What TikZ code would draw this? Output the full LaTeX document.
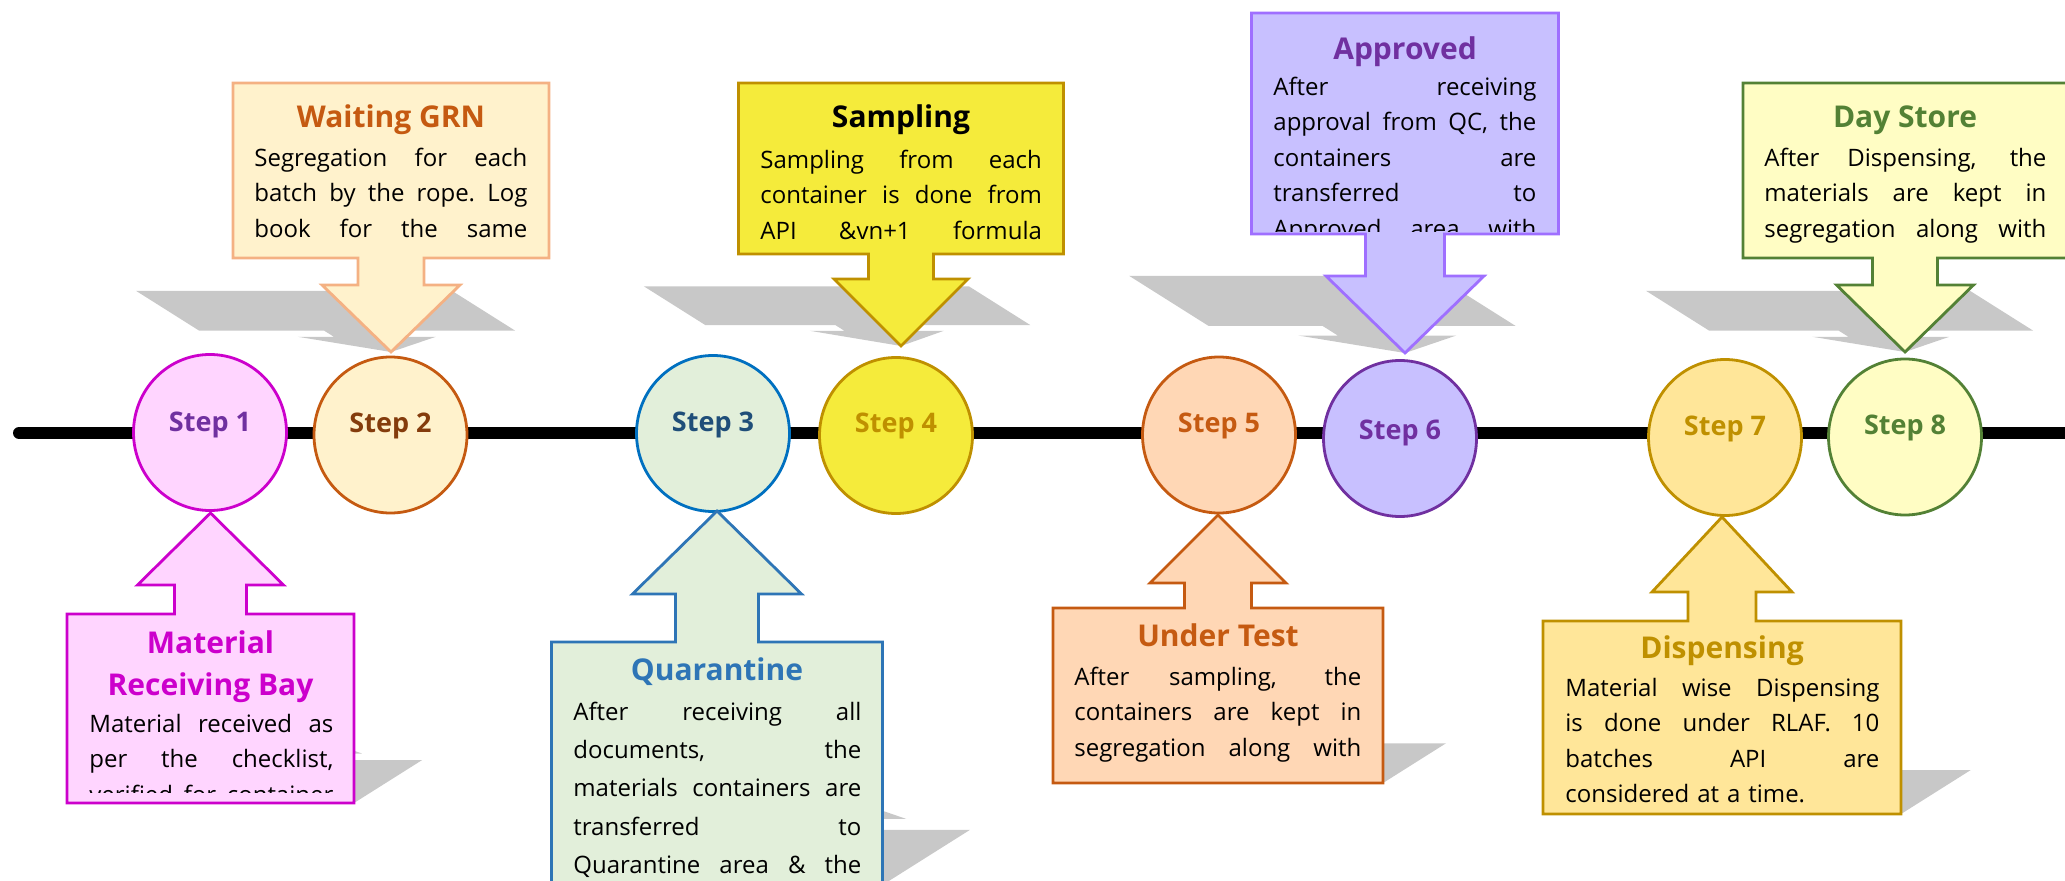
\documentclass[tikz,border=0pt]{standalone}
\usepackage{fontspec}
\setmainfont{Open Sans}
\usepackage{tikz}
\usetikzlibrary{shapes.geometric}

\definecolor{pinkF}{HTML}{FFD5FF}
\definecolor{pinkD}{HTML}{CC00CC}
\definecolor{purpD}{HTML}{7030A0}
\definecolor{creamF}{HTML}{FFF2CC}
\definecolor{peachD}{HTML}{F4B183}
\definecolor{brownD}{HTML}{C55A11}
\definecolor{brownT}{HTML}{843C0C}
\definecolor{greenF}{HTML}{E2EFDA}
\definecolor{blueD}{HTML}{0070C0}
\definecolor{blueB}{HTML}{2E75B6}
\definecolor{navyT}{HTML}{1F4E79}
\definecolor{yellowF}{HTML}{F5EB3B}
\definecolor{goldD}{HTML}{BF9000}
\definecolor{peachF}{HTML}{FFD7B5}
\definecolor{lavF}{HTML}{C8C0FF}
\definecolor{violD}{HTML}{9F6FFF}
\definecolor{goldF}{HTML}{FFE699}
\definecolor{lemonF}{HTML}{FFFDC4}
\definecolor{oliveD}{HTML}{538135}
\definecolor{shadowC}{HTML}{C8C8C8}

% one justified line of a callout text
\newlength{\jw}
\newcommand{\jline}[1]{\noindent\hbox to \jw{\spaceskip=.27em plus 1fil\xspaceskip=.27em plus 1fil\strut#1}\par}

% callouts: centre x / far edge / near edge / half width / stem / head / head y / tip y / fill / draw
\def\calls{391/83/258/158/33/69/285/352/creamF/peachD,
  901/83/254/162.5/32.5/67/279/346/yellowF/goldD,
  1405/13/234/153.5/39.5/79/276/353/lavF/violD,
  1905/83/258/162/32.5/68.5/285/352/lemonF/oliveD,
  210.5/803/614/143.5/36/73/585/513/pinkF/pinkD,
  717/885/642/165.5/41.5/84.5/594/511/greenF/blueB,
  1218/783/608/165/33.5/68/583/515/peachF/brownD,
  1722/814/621/179/34/70/592/517/goldF/goldD}

\begin{document}
\begin{tikzpicture}[x=0.5pt, y=-0.5pt,
    stepnode/.style={ellipse, minimum width=76.5pt, minimum height=78pt, inner sep=0pt, line width=1.4pt},
    steptext/.style={anchor=base, inner sep=0pt, font=\fontsize{13.5}{16}\selectfont\bfseries},
    ttl/.style={anchor=base, inner sep=0pt, font=\fontsize{15}{21}\selectfont\bfseries},
    body/.style={anchor=north west, inner sep=0pt, font=\fontsize{12}{17.75}\selectfont,
      text width=#1, execute at begin node={\setlength{\jw}{#1}}},
    callbox/.style={line width=1.4pt, line join=miter},
    dropshade/.style={fill=shadowC}]

	\useasboundingbox (0,0) rectangle (2065,881);

	% perspective shadows
	\foreach \cx/\fy/\ny/\bw/\sw/\hw/\hy/\ty/\fc/\dc in \calls {
		\pgfmathsetmacro\fl{\fy<\ny ? \ty : \fy}
		\pgfmathsetmacro\fs{0.5*\fl}
		\pgfmathsetmacro\sl{\fy<\ny ? -1.586 : 1.586}
		\begin{scope}[yshift=-\fs pt, xslant=\sl, yscale=0.227, yshift=\fs pt]
			\fill[dropshade] (\cx-\bw,\fy) -- (\cx+\bw,\fy) -- (\cx+\bw,\ny) -- (\cx+\sw,\ny) -- (\cx+\sw,\hy) -- (\cx+\hw,\hy)
				-- (\cx,\ty) -- (\cx-\hw,\hy) -- (\cx-\sw,\hy) -- (\cx-\sw,\ny) -- (\cx-\bw,\ny) -- cycle;
		\end{scope}
	}

	% timeline
	\coordinate (tl) at (19,433);
	\coordinate (tr) at (2080,433);
	\draw[line width=6pt, line cap=round] (tl) -- (tr);

	% steps
	\foreach \i/\x/\y/\ly/\fc/\dc/\tc in {1/210/432.5/432/pinkF/pinkD/purpD, 2/390.5/435/433/creamF/brownD/brownT,
		3/713/433.5/432/greenF/blueD/navyT, 4/896/435.5/433/yellowF/goldD/goldD, 5/1219/435/433/peachF/brownD/brownD,
		6/1400/438.5/440/lavF/purpD/purpD, 7/1725/437.5/436/goldF/goldD/goldD, 8/1905/437/435/lemonF/oliveD/oliveD} {
		\node[stepnode, fill=\fc, draw=\dc] (s\i) at (\x,\y) {};
		\node[steptext, text=\tc] (l\i) at (\x,\ly) {Step \i};
	}

	% callout shapes
	\foreach \cx/\fy/\ny/\bw/\sw/\hw/\hy/\ty/\fc/\dc in \calls {
		\path[callbox, fill=\fc, draw=\dc] (\cx-\bw,\fy) -- (\cx+\bw,\fy) -- (\cx+\bw,\ny) -- (\cx+\sw,\ny) -- (\cx+\sw,\hy) -- (\cx+\hw,\hy)
			-- (\cx,\ty) -- (\cx-\hw,\hy) -- (\cx-\sw,\hy) -- (\cx-\sw,\ny) -- (\cx-\bw,\ny) -- cycle;
	}

	% titles
	\node[ttl, text=brownD] (h1) at (391,128) {Waiting GRN};
	\node[ttl] (h2) at (901,128) {Sampling};
	\node[ttl, text=purpD] (h3) at (1405,60) {Approved};
	\node[ttl, text=oliveD] (h4) at (1905,128) {Day Store};
	\node[ttl, text=pinkD, anchor=north, align=center] (h5) at (210.5,623.6) {\strut Material\\\strut Receiving Bay};
	\node[ttl, text=blueB] (h6) at (717,680) {Quarantine};
	\node[ttl, text=brownD] (h7) at (1218,646) {Under Test};
	\node[ttl, text=goldD] (h8) at (1722,658) {Dispensing};

	% texts
	\node[body=136.5pt] (b1) at (254,141.15) {\jline{Segregation for each}\jline{batch by the rope. Log}\jline{book for the same}};
	\node[body=140.75pt] (b2) at (760,143.15) {\jline{Sampling from each}\jline{container is done from}\jline{API \&vn+1 formula}};
	\begin{scope}
		\clip (1253,15) rectangle (1556,232);
		\node[body=131.5pt] (b3) at (1273,70.15) {\jline{After receiving}\jline{approval from QC, the}\jline{containers are}\jline{transferred to}\jline{Approved area with}};
	\end{scope}
	\node[body=141pt] (b4) at (1764,141.15) {\jline{After Dispensing, the}\jline{materials are kept in}\jline{segregation along with}};
	\begin{scope}
		\clip (69,616) rectangle (352,792);
		\node[body=122pt] (b5) at (89,707.15) {\jline{Material received as}\jline{per the checklist,}\jline{verified for container}};
	\end{scope}
	\node[body=144pt, font=\fontsize{12}{19.1}\selectfont] (b6) at (573,693.3) {\jline{After receiving all}\jline{documents, the}\jline{materials containers are}\jline{transferred to}\jline{Quarantine area \& the}};
	\node[body=143.5pt] (b7) at (1074,660.15) {\jline{After sampling, the}\jline{containers are kept in}\jline{segregation along with}};
	\node[body=157pt, font=\fontsize{12}{17.65}\selectfont] (b8) at (1565,671.3) {\jline{Material wise Dispensing}\jline{is done under RLAF. 10}\jline{batches API are}\noindent\strut considered at a time.};
\end{tikzpicture}
\end{document}
